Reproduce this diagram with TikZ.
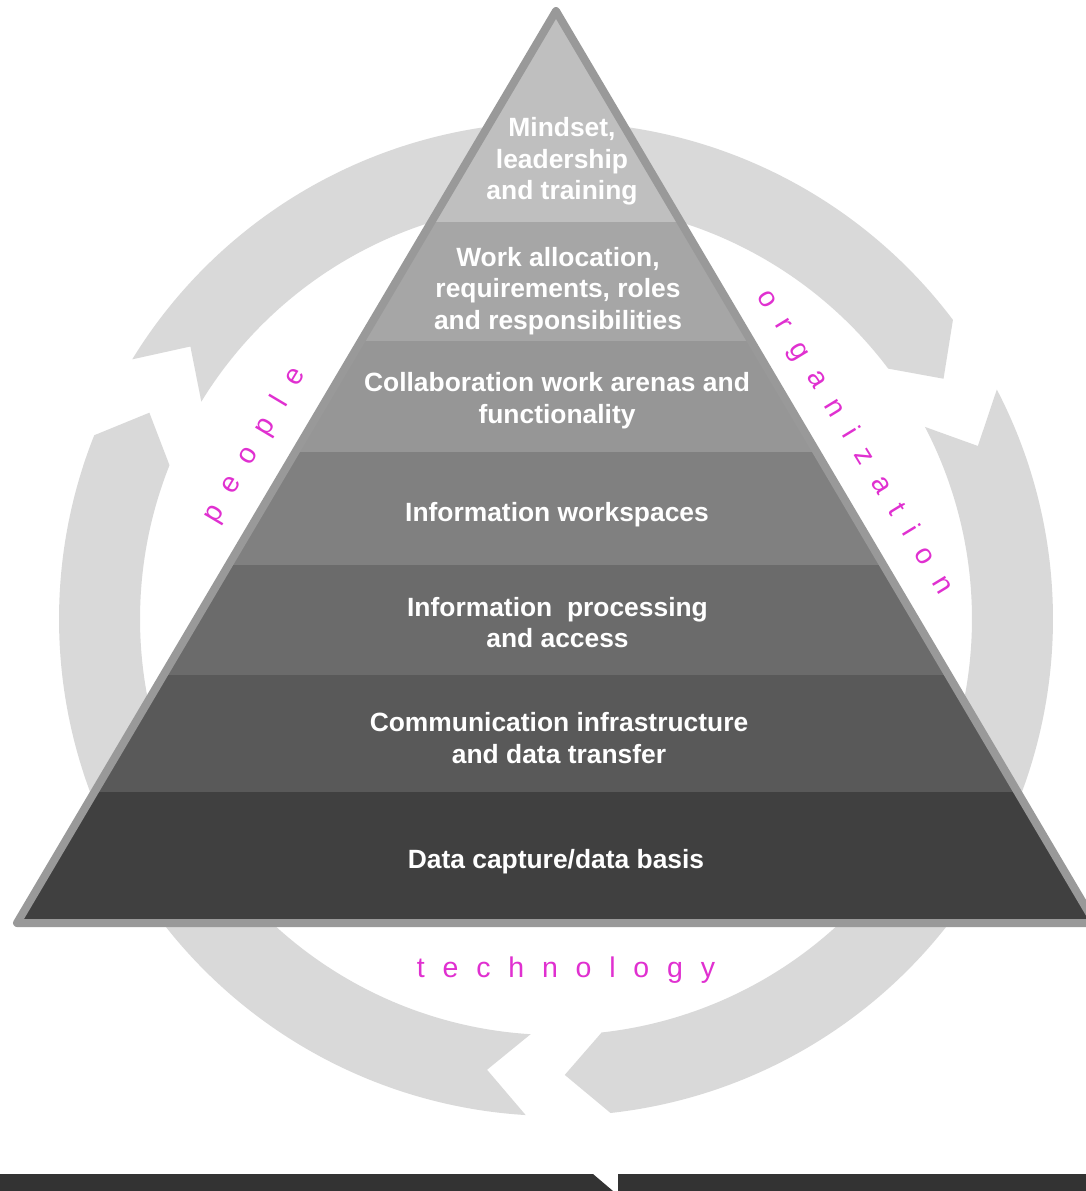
\documentclass[tikz,border=0pt]{standalone}
\usepackage{fontspec}
\setmainfont{Liberation Sans}
\definecolor{ringc}{HTML}{D9D9D9}
\definecolor{pinkc}{RGB}{224,48,208}
\definecolor{edgec}{HTML}{999999}
\definecolor{bandA}{HTML}{BFBFBF}
\definecolor{bandB}{HTML}{A6A6A6}
\definecolor{bandC}{HTML}{969696}
\definecolor{bandD}{HTML}{808080}
\definecolor{bandE}{HTML}{6B6B6B}
\definecolor{bandF}{HTML}{595959}
\definecolor{bandG}{HTML}{404040}
\definecolor{barc}{HTML}{333333}
\begin{document}
\begin{tikzpicture}[x=1pt,y=-1pt,
  ringarrow/.style={fill=ringc},
  pyrtext/.style={text=white, font=\fontsize{26.4}{31.5}\selectfont\bfseries, align=center, inner sep=0pt},
  pinktext/.style={text=pinkc, font={\fontsize{28.5}{32}\selectfont\spaceskip=17.8pt\relax}, inner sep=0pt},
  pyredge/.style={draw=edgec, line width=8pt, line join=round}]
\useasboundingbox (0,0) rectangle (1086,1191);
\fill[white] (0,0) rectangle (1086,1191);

% circular arrows
\begin{scope}[shift={(556,619)}, yscale=-1]
  \fill[ringarrow] (148.5:497) arc[start angle=148.5, end angle=37, radius=497]
     -- (31.8:456) -- (37:416) arc[start angle=37, end angle=148.5, radius=416]
     -- (143.3:456) -- cycle;
  \fill[ringarrow] (27.5:497) arc[start angle=27.5, end angle=-83.7, radius=497]
     -- (-88.9:456) -- (-83.7:416) arc[start angle=-83.7, end angle=27.5, radius=416]
     -- (22.3:456) -- cycle;
  \fill[ringarrow] (266.5:497) arc[start angle=266.5, end angle=158.3, radius=497]
     -- (153.1:456) -- (158.3:416) arc[start angle=158.3, end angle=266.5, radius=416]
     -- (261.3:456) -- cycle;
\end{scope}

% pyramid bands
\begin{scope}
  \clip (556,11) -- (17,923) -- (1095,923) -- cycle;
  \fill[bandA] (0,0) rectangle (1100,222);
  \fill[bandB] (0,222) rectangle (1100,341);
  \fill[bandC] (0,341) rectangle (1100,452);
  \fill[bandD] (0,452) rectangle (1100,565);
  \fill[bandE] (0,565) rectangle (1100,675);
  \fill[bandF] (0,675) rectangle (1100,792);
  \fill[bandG] (0,792) rectangle (1100,930);
\end{scope}
\draw[pyredge] (556,11) -- (17,923) -- (1095,923) -- cycle;

% pyramid texts
\node[pyrtext] (mindset) at (562,161.6) {Mindset,\\leadership\\and training};
\node[pyrtext] (work) at (558,290.9) {Work allocation,\\requirements, roles\\and responsibilities};
\node[pyrtext] (collab) at (557,400.6) {Collaboration work arenas and\\functionality};
\node[pyrtext] (workspaces) at (557,515.1) {Information workspaces};
\node[pyrtext] (processing) at (557.5,622.5) {Information\ \ processing\\and access};
\node[pyrtext] (comm) at (559,737.9) {Communication infrastructure\\and data transfer};
\node[pyrtext] (data) at (556,862.1) {Data capture/data basis};

% pink labels
\node[pinktext, rotate=59.2] (people) at (254.5,445.5) {p e o p l e};
\node[pinktext, rotate=-58.6] (organization) at (854.5,442) {o r g a n i z a t i o n};
\node[pinktext, anchor=base] (technology) at (566,977) {t e c h n o l o g y};

% bottom bar
\fill[barc] (0,1174) -- (593,1174) -- (613,1191) -- (0,1191) -- cycle;
\fill[barc] (618,1174) -- (1086,1174) -- (1086,1191) -- (618,1191) -- cycle;
\end{tikzpicture}
\end{document}
